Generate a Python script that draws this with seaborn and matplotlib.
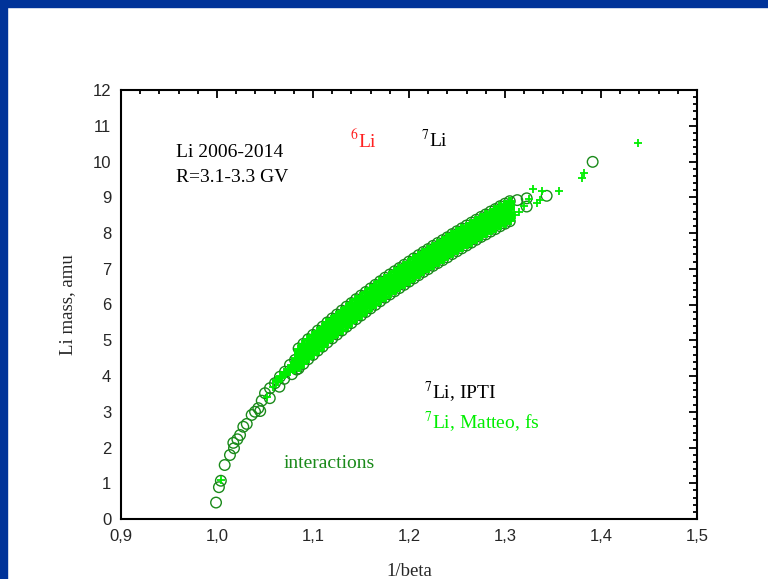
import matplotlib
matplotlib.use("Agg")
import matplotlib.pyplot as plt
import seaborn as sns
import pandas as pd
from matplotlib.ticker import MultipleLocator, FixedLocator
from matplotlib.patches import Rectangle

# ---------------- data ----------------
# IPTI 7Li events (open circles): low-mass tail, start of band, sparse high end
tail_circ_x = [0.999, 1.002, 1.004, 1.008, 1.0135, 1.0177, 1.017, 1.0212, 1.024, 1.0274,
               1.031, 1.0361, 1.0396, 1.043, 1.0466, 1.05, 1.0552, 1.0604, 1.0656, 1.0708,
               1.076, 1.0813, 1.0865, 1.045, 1.055, 1.065, 1.070, 1.078, 1.083,
               1.3128, 1.3226, 1.3226, 1.3434, 1.3913]
tail_circ_y = [0.46, 0.89, 1.07, 1.51, 1.79, 1.98, 2.13, 2.23, 2.35, 2.58,
               2.66, 2.91, 3.00, 3.10, 3.31, 3.52, 3.66, 3.80, 3.98, 4.12,
               4.31, 4.45, 4.59, 3.02, 3.38, 3.70, 3.92, 4.05, 4.18,
               8.92, 8.97, 8.74, 9.04, 9.99]

# 1/beta positions across the dense band
band_x = [1.085, 1.090, 1.095, 1.100, 1.105, 1.110, 1.115,
          1.120, 1.125, 1.130, 1.135, 1.140, 1.145, 1.150, 1.155, 1.160, 1.165,
          1.170, 1.175, 1.180, 1.185, 1.190, 1.195, 1.200, 1.205, 1.210, 1.215,
          1.220, 1.225, 1.230, 1.235, 1.240, 1.245, 1.250, 1.255, 1.260, 1.265,
          1.270, 1.275, 1.280, 1.285, 1.290, 1.295, 1.300, 1.305]

# circles on the upper and lower edges of the band
circ_upper = [4.77, 4.90, 5.03, 5.15, 5.27, 5.38, 5.50, 5.61, 5.72,
              5.83, 5.94, 6.04, 6.15, 6.25, 6.35, 6.45, 6.55, 6.65, 6.75, 6.84, 6.93,
              7.02, 7.11, 7.20, 7.29, 7.38, 7.47, 7.55, 7.64, 7.72, 7.80, 7.88, 7.97,
              8.05, 8.13, 8.21, 8.29, 8.37, 8.45, 8.52, 8.60, 8.67, 8.75, 8.82, 8.89]
circ_lower = [4.21, 4.34, 4.47, 4.59, 4.71, 4.82, 4.94, 5.05, 5.16,
              5.27, 5.38, 5.48, 5.59, 5.69, 5.79, 5.89, 5.99, 6.09, 6.19, 6.28, 6.37,
              6.46, 6.55, 6.64, 6.73, 6.82, 6.91, 6.99, 7.08, 7.16, 7.24, 7.32, 7.41,
              7.49, 7.57, 7.65, 7.73, 7.81, 7.89, 7.96, 8.04, 8.11, 8.19, 8.26, 8.33]

# Matteo fs 7Li events (plus markers), rows across the band
plus_row1 = [4.24, 4.37, 4.50, 4.62, 4.74, 4.85, 4.97, 5.08, 5.19,
             5.30, 5.41, 5.51, 5.62, 5.72, 5.82, 5.92, 6.02, 6.12, 6.22, 6.31, 6.40,
             6.49, 6.58, 6.67, 6.76, 6.85, 6.94, 7.02, 7.11, 7.19, 7.27, 7.35, 7.44,
             7.52, 7.60, 7.68, 7.76, 7.84, 7.92, 7.99, 8.07, 8.14, 8.22, 8.29, 8.36]
plus_row2 = [4.34, 4.47, 4.60, 4.72, 4.84, 4.95, 5.07, 5.18, 5.29,
             5.40, 5.51, 5.61, 5.72, 5.82, 5.92, 6.02, 6.12, 6.22, 6.32, 6.41, 6.50,
             6.59, 6.68, 6.77, 6.86, 6.95, 7.04, 7.12, 7.21, 7.29, 7.37, 7.45, 7.54,
             7.62, 7.70, 7.78, 7.86, 7.94, 8.02, 8.09, 8.17, 8.24, 8.32, 8.39, 8.46]
plus_row3 = [4.44, 4.57, 4.70, 4.82, 4.94, 5.05, 5.17, 5.28, 5.39,
             5.50, 5.61, 5.71, 5.82, 5.92, 6.02, 6.12, 6.22, 6.32, 6.42, 6.51, 6.60,
             6.69, 6.78, 6.87, 6.96, 7.05, 7.14, 7.22, 7.31, 7.39, 7.47, 7.55, 7.64,
             7.72, 7.80, 7.88, 7.96, 8.04, 8.12, 8.19, 8.27, 8.34, 8.42, 8.49, 8.56]
plus_row4 = [4.54, 4.67, 4.80, 4.92, 5.04, 5.15, 5.27, 5.38, 5.49,
             5.60, 5.71, 5.81, 5.92, 6.02, 6.12, 6.22, 6.32, 6.42, 6.52, 6.61, 6.70,
             6.79, 6.88, 6.97, 7.06, 7.15, 7.24, 7.32, 7.41, 7.49, 7.57, 7.65, 7.74,
             7.82, 7.90, 7.98, 8.06, 8.14, 8.22, 8.29, 8.37, 8.44, 8.52, 8.59, 8.66]
plus_row5 = [4.64, 4.77, 4.90, 5.02, 5.14, 5.25, 5.37, 5.48, 5.59,
             5.70, 5.81, 5.91, 6.02, 6.12, 6.22, 6.32, 6.42, 6.52, 6.62, 6.71, 6.80,
             6.89, 6.98, 7.07, 7.16, 7.25, 7.34, 7.42, 7.51, 7.59, 7.67, 7.75, 7.84,
             7.92, 8.00, 8.08, 8.16, 8.24, 8.32, 8.39, 8.47, 8.54, 8.62, 8.69, 8.76]
plus_row6 = [4.74, 4.87, 5.00, 5.12, 5.24, 5.35, 5.47, 5.58, 5.69,
             5.80, 5.91, 6.01, 6.12, 6.22, 6.32, 6.42, 6.52, 6.62, 6.72, 6.81, 6.90,
             6.99, 7.08, 7.17, 7.26, 7.35, 7.44, 7.52, 7.61, 7.69, 7.77, 7.85, 7.94,
             8.02, 8.10, 8.18, 8.26, 8.34, 8.42, 8.49, 8.57, 8.64, 8.72, 8.79, 8.86]

# plus markers where the band starts (thinner part of the band)
start_plus_x = [1.062, 1.067, 1.071, 1.075, 1.078, 1.080, 1.083, 1.082]
start_plus_y = [3.85, 3.98, 4.08, 4.14, 4.28, 4.20, 4.35, 4.48]

# sparse plus markers (low-mass tail and high-mass end)
extra_plus_x = [1.004, 1.0518, 1.058, 1.31, 1.315, 1.32, 1.325, 1.333, 1.3365,
                1.3382, 1.3295, 1.3566, 1.3799, 1.3823, 1.4389]
extra_plus_y = [1.10, 3.42, 3.68, 8.50, 8.60, 8.75, 8.95, 8.83, 8.92,
                9.17, 9.23, 9.17, 9.53, 9.69, 10.51]

x_ticks = [0.9, 1.0, 1.1, 1.2, 1.3, 1.4, 1.5]
x_tick_labels = ["0,9", "1,0", "1,1", "1,2", "1,3", "1,4", "1,5"]
y_ticks = [0, 1, 2, 3, 4, 5, 6, 7, 8, 9, 10, 11, 12]
y_tick_labels = [str(v) for v in y_ticks]

# ---------------- assemble tables ----------------
circ_df = pd.concat([
    pd.DataFrame({"x": tail_circ_x, "y": tail_circ_y}),
    pd.DataFrame({"x": band_x, "y": circ_upper}),
    pd.DataFrame({"x": band_x, "y": circ_lower}),
], ignore_index=True)
band_plus_df = pd.concat(
    [pd.DataFrame({"x": band_x, "y": r}) for r in
     (plus_row1, plus_row2, plus_row3, plus_row4, plus_row5, plus_row6)]
    + [pd.DataFrame({"x": start_plus_x, "y": start_plus_y})],
    ignore_index=True)
extra_plus_df = pd.DataFrame({"x": extra_plus_x, "y": extra_plus_y})

# ---------------- styling ----------------
sns.set_style("white")
plt.rcParams["font.family"] = ["Liberation Serif", "DejaVu Serif"]
plt.rcParams["mathtext.fontset"] = "stix"

DARK_GREEN = "#1a8a1a"
LIME = "#00ee00"
NAVY = "#003399"

fig = plt.figure(figsize=(7.68, 5.79), dpi=100)
fig.patch.set_facecolor("white")
fig.add_artist(Rectangle((0, 1 - 7 / 579), 1, 7 / 579, transform=fig.transFigure,
                         color=NAVY, zorder=0))
fig.add_artist(Rectangle((0, 0), 7 / 768, 1, transform=fig.transFigure,
                         color=NAVY, zorder=0))

ax = fig.add_axes([121 / 768, 1 - 519 / 579, (697 - 121) / 768, (519 - 90) / 579])

sns.scatterplot(data=circ_df, x="x", y="y", ax=ax, marker="o", s=58,
                facecolor="none", edgecolor=DARK_GREEN, linewidth=1.0)
circ_coll = ax.collections[-1]
circ_coll.set_facecolor("none")
circ_coll.set_edgecolor(DARK_GREEN)
circ_coll.set_zorder(2)

sns.scatterplot(data=band_plus_df, x="x", y="y", ax=ax, marker="+", s=55,
                color=LIME, linewidth=2.8)
ax.collections[-1].set_zorder(3)
sns.scatterplot(data=extra_plus_df, x="x", y="y", ax=ax, marker="+", s=40,
                color=LIME, linewidth=1.3)
ax.collections[-1].set_zorder(3)

ax.set_xlim(0.9, 1.5)
ax.set_ylim(0, 12)
ax.xaxis.set_major_locator(FixedLocator(x_ticks))
ax.set_xticklabels(x_tick_labels)
ax.yaxis.set_major_locator(FixedLocator(y_ticks))
ax.set_yticklabels(y_tick_labels)
ax.xaxis.set_minor_locator(MultipleLocator(0.02))
ax.yaxis.set_minor_locator(MultipleLocator(0.2))
ax.tick_params(which="both", direction="in", top=True, right=True, color="black",
               width=1.3)
ax.tick_params(which="major", length=6, labelsize=12, pad=7)
ax.tick_params(which="minor", length=3)
for lab in ax.get_xticklabels() + ax.get_yticklabels():
    lab.set_fontfamily("Liberation Sans")
for sp in ax.spines.values():
    sp.set_visible(True)
    sp.set_linewidth(1.5)
    sp.set_color("black")

ax.set_xlabel("1/beta", fontsize=13.5, labelpad=14)
ax.set_ylabel("Li mass, amu", fontsize=13.5, labelpad=12)

ax.text(0.957, 10.13, "Li 2006-2014", fontsize=14, color="black")
ax.text(0.957, 9.43, "R=3.1-3.3 GV", fontsize=14, color="black")
ax.text(1.1385, 10.4, r"$^{6}$Li", fontsize=14, color="#ff2020")
ax.text(1.2125, 10.4, r"$^{7}$Li", fontsize=14, color="black")
ax.text(1.2156, 3.38, r"$^{7}$Li, IPTI", fontsize=14, color="black")
ax.text(1.2156, 2.55, r"$^{7}$Li, Matteo, fs", fontsize=14, color=LIME)
ax.text(1.069, 1.43, "interactions", fontsize=14, color=DARK_GREEN)

fig.savefig("out.png", dpi=100)
